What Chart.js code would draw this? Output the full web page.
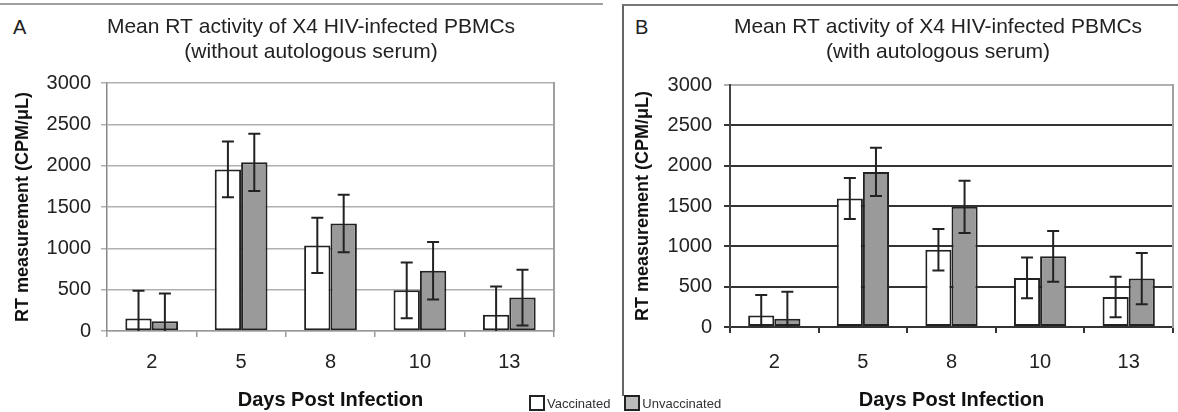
<!DOCTYPE html>
<html>
<head>
<meta charset="utf-8">
<script src="https://cdn.jsdelivr.net/npm/chart.js@4/dist/chart.umd.min.js"></script>
<style>
  html, body { margin: 0; padding: 0; background: #fff; overflow: hidden; }
  body { position: relative; width: 1178px; height: 412px; font-family: 'Liberation Sans', Arial, sans-serif; color: #222; }
  .wrap { position: absolute; top: 0; height: 412px; }
  #wrapA { left: 0; width: 622px; }
  #wrapB { left: 624px; width: 628px; }
  #lineA { position: absolute; left: 0; top: 3px; width: 603px; border-top: 2px solid #a0a0a0; }
  #frameB { position: absolute; left: 622px; top: 4px; width: 600px; height: 390px; border-left: 2px solid #666; border-top: 2px solid #777; }
  .tag { position: absolute; top: 16px; font-size: 20px; }
  #legend { position: absolute; left: 529px; top: 395px; font-size: 13px; color: #333; display: flex; align-items: center; }
  #legend span.sw { display: inline-block; width: 12px; height: 12px; border: 2px solid #222; margin-right: 2px; }
  #legend span.lb { margin-right: 14px; }
</style>
</head>
<body>
<div id="lineA"></div>
<div id="frameB"></div>
<div class="tag" style="left:13px">A</div>
<div class="tag" style="left:635px">B</div>
<div class="wrap" id="wrapA"><canvas id="chartA"></canvas></div>
<div class="wrap" id="wrapB"><canvas id="chartB"></canvas></div>
<div id="legend"></div>
<script>
const days = ['2', '5', '8', '10', '13'];
const seriesNames = ['Vaccinated', 'Unvaccinated'];
const seriesColors = ['#ffffff', '#9a9a9a'];
const legendColors = ['#ffffff', '#bbbbbb'];

// panel A - without autologous serum
const vaccA = [150, 1955, 1035, 492, 198];
const vaccAErr = [336, 336, 334, 337, 339];
const unvaccA = [117, 2040, 1300, 730, 404];
const unvaccAErr = [338, 345, 348, 348, 338];

// panel B - with autologous serum
const vaccB = [144, 1593, 957, 608, 372];
const vaccBErr = [252, 254, 257, 253, 250];
const unvaccB = [103, 1923, 1490, 876, 600];
const unvaccBErr = [334, 300, 324, 314, 318];

const yTicks = [0, 500, 1000, 1500, 2000, 2500, 3000];

const font = 'Liberation Sans';

const errorBars = {
    id: 'errorBars',
    afterDatasetsDraw(chart) {
        const ctx = chart.ctx;
        const y = chart.scales.y;
        ctx.save();
        ctx.strokeStyle = '#222';
        ctx.lineWidth = 2;
        chart.data.datasets.forEach((ds, i) => {
            chart.getDatasetMeta(i).data.forEach((bar, j) => {
                const v = ds.data[j], e = ds.errors[j];
                const top = y.getPixelForValue(v + e);
                const bottom = y.getPixelForValue(Math.max(v - e, 0));
                const x = bar.x;
                ctx.beginPath();
                ctx.moveTo(x, top); ctx.lineTo(x, bottom);
                ctx.moveTo(x - 6, top); ctx.lineTo(x + 6, top);
                if (v - e > 0) { ctx.moveTo(x - 6, bottom); ctx.lineTo(x + 6, bottom); }
                ctx.stroke();
            });
        });
        ctx.restore();
    }
};

function makePanel(id, vacc, vaccErr, unvacc, unvaccErr, p) {
    const ctx = document.getElementById(id).getContext('2d');
    return new Chart(ctx, {
        type: 'bar',
        data: {
            labels: days,
            datasets: [
                { label: seriesNames[0], data: vacc, errors: vaccErr, backgroundColor: seriesColors[0],
                  borderColor: '#222', borderWidth: 2, borderSkipped: false },
                { label: seriesNames[1], data: unvacc, errors: unvaccErr, backgroundColor: seriesColors[1],
                  borderColor: '#222', borderWidth: 2, borderSkipped: false }
            ]
        },
        options: {
            responsive: true,
            maintainAspectRatio: false,
            animation: false,
            layout: { padding: 0 },
            datasets: { bar: { categoryPercentage: 0.59, barPercentage: 1 } },
            plugins: {
                legend: { display: false },
                tooltip: { enabled: false },
                title: {
                    display: true,
                    text: p.title,
                    color: '#222',
                    font: { family: font, size: 21, weight: 'normal' },
                    padding: { top: 14.4, bottom: p.titleBottom }
                }
            },
            scales: {
                x: {
                    grid: { drawOnChartArea: false, tickLength: 6, color: p.axisColor, lineWidth: p.gridWidth },
                    border: { color: p.axisColor, width: p.gridWidth },
                    ticks: { color: '#222', font: { family: font, size: 20 }, padding: p.xTickPad },
                    title: { display: true, text: 'Days Post Infection', color: '#111',
                             font: { family: font, size: 20, weight: 'bold' }, padding: 0 },
                    afterFit: s => { s.height = p.xHeight; }
                },
                y: {
                    min: 0, max: 3000,
                    afterBuildTicks: s => { s.ticks = yTicks.map(v => ({ value: v })); },
                    grid: { color: p.gridColor, lineWidth: p.gridWidth, tickLength: 6 },
                    border: { color: p.yAxisColor, width: p.gridWidth },
                    ticks: { color: '#222', font: { family: font, size: 20 }, padding: p.yTickPad,
                             callback: v => String(v) },
                    title: { display: true, text: 'RT measurement (CPM/\u03bcL)', color: '#111',
                             font: { family: font, size: 18, weight: 'bold' }, padding: { top: p.yTitlePad } },
                    afterFit: s => { s.width = p.yWidth; }
                },
                y2: {
                    position: 'right', min: 0, max: 3000,
                    ticks: { display: false },
                    grid: { drawOnChartArea: false, drawTicks: false },
                    border: { color: '#a0a0a0', width: 2 },
                    afterFit: s => { s.width = p.rightWidth; }
                }
            }
        },
        plugins: [errorBars]
    });
}

makePanel('chartA', vaccA, vaccAErr, unvaccA, unvaccAErr, {
    title: ['Mean RT activity of X4 HIV-infected PBMCs', '(without autologous serum)'],
    titleBottom: 18.2,
    gridColor: '#b0b0b0', axisColor: '#999', yAxisColor: '#888', gridWidth: 1.5,
    xTickPad: 13, xHeight: 81, yTickPad: 10, yTitlePad: 12, yWidth: 107, rightWidth: 68
});

makePanel('chartB', vaccB, vaccBErr, unvaccB, unvaccBErr, {
    title: ['Mean RT activity of X4 HIV-infected PBMCs', '(with autologous serum)'],
    titleBottom: 20.2,
    gridColor: c => (c.tick && c.tick.value === 3000 ? '#b0b0b0' : '#333'),
    axisColor: '#333', yAxisColor: '#444', gridWidth: 2,
    xTickPad: 17, xHeight: 85, yTickPad: 12, yTitlePad: 8, yWidth: 106, rightWidth: 79
});

// shared legend
const legend = document.getElementById('legend');
seriesNames.forEach((name, i) => {
    const sw = document.createElement('span');
    sw.className = 'sw';
    sw.style.background = legendColors[i];
    const lb = document.createElement('span');
    lb.className = 'lb';
    lb.textContent = name;
    legend.appendChild(sw);
    legend.appendChild(lb);
});
</script>
</body>
</html>
